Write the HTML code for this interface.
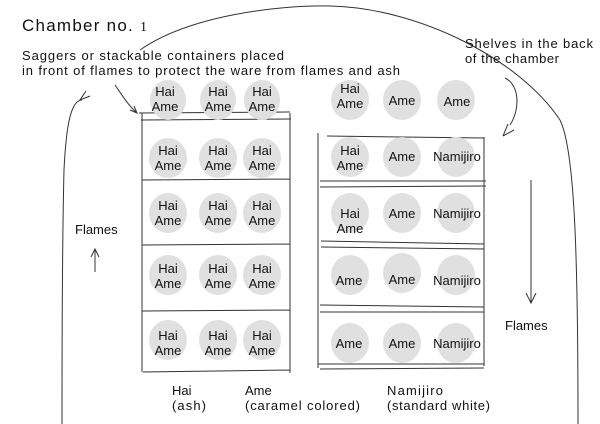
<!DOCTYPE html>
<html><head><style>
body{margin:0;background:#fff;}
svg{display:block;font-family:"Liberation Sans",sans-serif;}
</style></head><body>
<svg width="600" height="424" viewBox="0 0 600 424" xmlns="http://www.w3.org/2000/svg">
<g fill="none" stroke="#333" stroke-width="1">
<path d="M140 50 C 190 15, 280 5, 330 6 C 420 8, 520 60, 560 120 C 575 150, 578 260, 578 424"/>
<path d="M82 100 C 70 100, 66 130, 64 170 C 62 250, 62 350, 62 424"/>
<path d="M86 91 L80 100 L90 96"/>
<path d="M115 85 C 122 95, 128 105, 136 112 M130 110 L137 113 L134 106"/>
<path d="M505 78 C 520 85, 520 110, 510 125 M503 136 L508 124 M503 136 L514 130"/>
<path d="M95 272 L95 250 M91 257 L95 249 L99 257"/>
<path d="M531 180 L531 302 M526 293 L531 303 L536 293"/>
<path d="M139 113 L290 112 M141 120 L291 119 M142 113 L142 372 M290 113 L290 373 M142 180 L290 179 M142 245 L290 244 M142 311 L290 310 M143 372 L290 370"/>
<path d="M327 136 L484 138 M318 133 L318 368 M484 137 L484 366 M320 181 L486 181 M320 187 L486 186 M321 241 L484 244 M321 247 L484 249 M320 305 L484 307 M320 312 L484 312 M320 369 L484 368 M318 364 L484 364"/>
</g>
<g fill="#e0e0e0">
<ellipse cx="168" cy="100" rx="18" ry="20"/><ellipse cx="218" cy="100" rx="18" ry="20"/><ellipse cx="262" cy="100" rx="18" ry="20"/>
<ellipse cx="168" cy="158" rx="19" ry="20"/><ellipse cx="218" cy="158" rx="19" ry="20"/><ellipse cx="262" cy="158" rx="19" ry="20"/>
<ellipse cx="168" cy="213" rx="19" ry="20"/><ellipse cx="218" cy="213" rx="19" ry="20"/><ellipse cx="262" cy="213" rx="19" ry="20"/>
<ellipse cx="168" cy="275" rx="19" ry="20"/><ellipse cx="218" cy="275" rx="19" ry="20"/><ellipse cx="262" cy="275" rx="19" ry="20"/>
<ellipse cx="168" cy="340" rx="19" ry="20"/><ellipse cx="218" cy="340" rx="19" ry="20"/><ellipse cx="262" cy="340" rx="19" ry="20"/>
<ellipse cx="350" cy="100" rx="19" ry="20"/><ellipse cx="402" cy="100" rx="19" ry="20"/><ellipse cx="456" cy="100" rx="19" ry="20"/>
<ellipse cx="350" cy="157" rx="19" ry="20"/><ellipse cx="402" cy="157" rx="19" ry="20"/><ellipse cx="456" cy="157" rx="19" ry="20"/>
<ellipse cx="350" cy="213" rx="19" ry="20"/><ellipse cx="402" cy="213" rx="19" ry="20"/><ellipse cx="456" cy="213" rx="19" ry="20"/>
<ellipse cx="350" cy="275" rx="19" ry="20"/><ellipse cx="402" cy="273" rx="19" ry="20"/><ellipse cx="456" cy="275" rx="19" ry="20"/>
<ellipse cx="350" cy="343" rx="19" ry="20"/><ellipse cx="402" cy="343" rx="19" ry="20"/><ellipse cx="456" cy="343" rx="19" ry="20"/>
</g>
<g font-size="13" fill="#111" text-anchor="middle">
<text x="165" y="96">Hai</text><text x="165" y="111">Ame</text>
<text x="218" y="96">Hai</text><text x="218" y="111">Ame</text>
<text x="262" y="96">Hai</text><text x="262" y="111">Ame</text>
<text x="168" y="155">Hai</text><text x="168" y="170">Ame</text>
<text x="218" y="155">Hai</text><text x="218" y="170">Ame</text>
<text x="262" y="155">Hai</text><text x="262" y="170">Ame</text>
<text x="168" y="210">Hai</text><text x="168" y="225">Ame</text>
<text x="218" y="210">Hai</text><text x="218" y="225">Ame</text>
<text x="262" y="210">Hai</text><text x="262" y="225">Ame</text>
<text x="168" y="273">Hai</text><text x="168" y="288">Ame</text>
<text x="218" y="273">Hai</text><text x="218" y="288">Ame</text>
<text x="262" y="273">Hai</text><text x="262" y="288">Ame</text>
<text x="168" y="340">Hai</text><text x="168" y="355">Ame</text>
<text x="218" y="340">Hai</text><text x="218" y="355">Ame</text>
<text x="262" y="340">Hai</text><text x="262" y="355">Ame</text>
<text x="350" y="93">Hai</text><text x="350" y="108">Ame</text>
<text x="402" y="105">Ame</text><text x="457" y="106">Ame</text>
<text x="350" y="155">Hai</text><text x="350" y="170">Ame</text>
<text x="402" y="161">Ame</text><text x="457" y="161">Namijiro</text>
<text x="350" y="218">Hai</text><text x="350" y="233">Ame</text>
<text x="402" y="218">Ame</text><text x="457" y="218">Namijiro</text>
<text x="349" y="285">Ame</text><text x="402" y="284">Ame</text><text x="457" y="285">Namijiro</text>
<text x="349" y="348">Ame</text><text x="402" y="348">Ame</text><text x="457" y="348">Namijiro</text>
</g>
<g font-size="13" fill="#111">
<text x="22" y="31" font-size="17" textLength="125" lengthAdjust="spacing">Chamber no. <tspan font-family="Liberation Serif" font-size="14">1</tspan></text>
<text x="22" y="60" textLength="262" lengthAdjust="spacing">Saggers or stackable containers placed</text>
<text x="22" y="75" textLength="378" lengthAdjust="spacing">in front of flames to protect the ware from flames and ash</text>
<text x="465" y="48" textLength="128" lengthAdjust="spacing">Shelves in the back</text>
<text x="465" y="63" textLength="94" lengthAdjust="spacing">of the chamber</text>
<text x="75" y="234">Flames</text>
<text x="505" y="330">Flames</text>
<text x="172" y="395">Hai</text><text x="172" y="410" textLength="34" lengthAdjust="spacing">(ash)</text>
<text x="245" y="395">Ame</text><text x="245" y="410" textLength="115" lengthAdjust="spacing">(caramel colored)</text>
<text x="387" y="395" textLength="56" lengthAdjust="spacing">Namijiro</text><text x="387" y="410" textLength="103" lengthAdjust="spacing">(standard white)</text>
</g>
</svg>
</body></html>
